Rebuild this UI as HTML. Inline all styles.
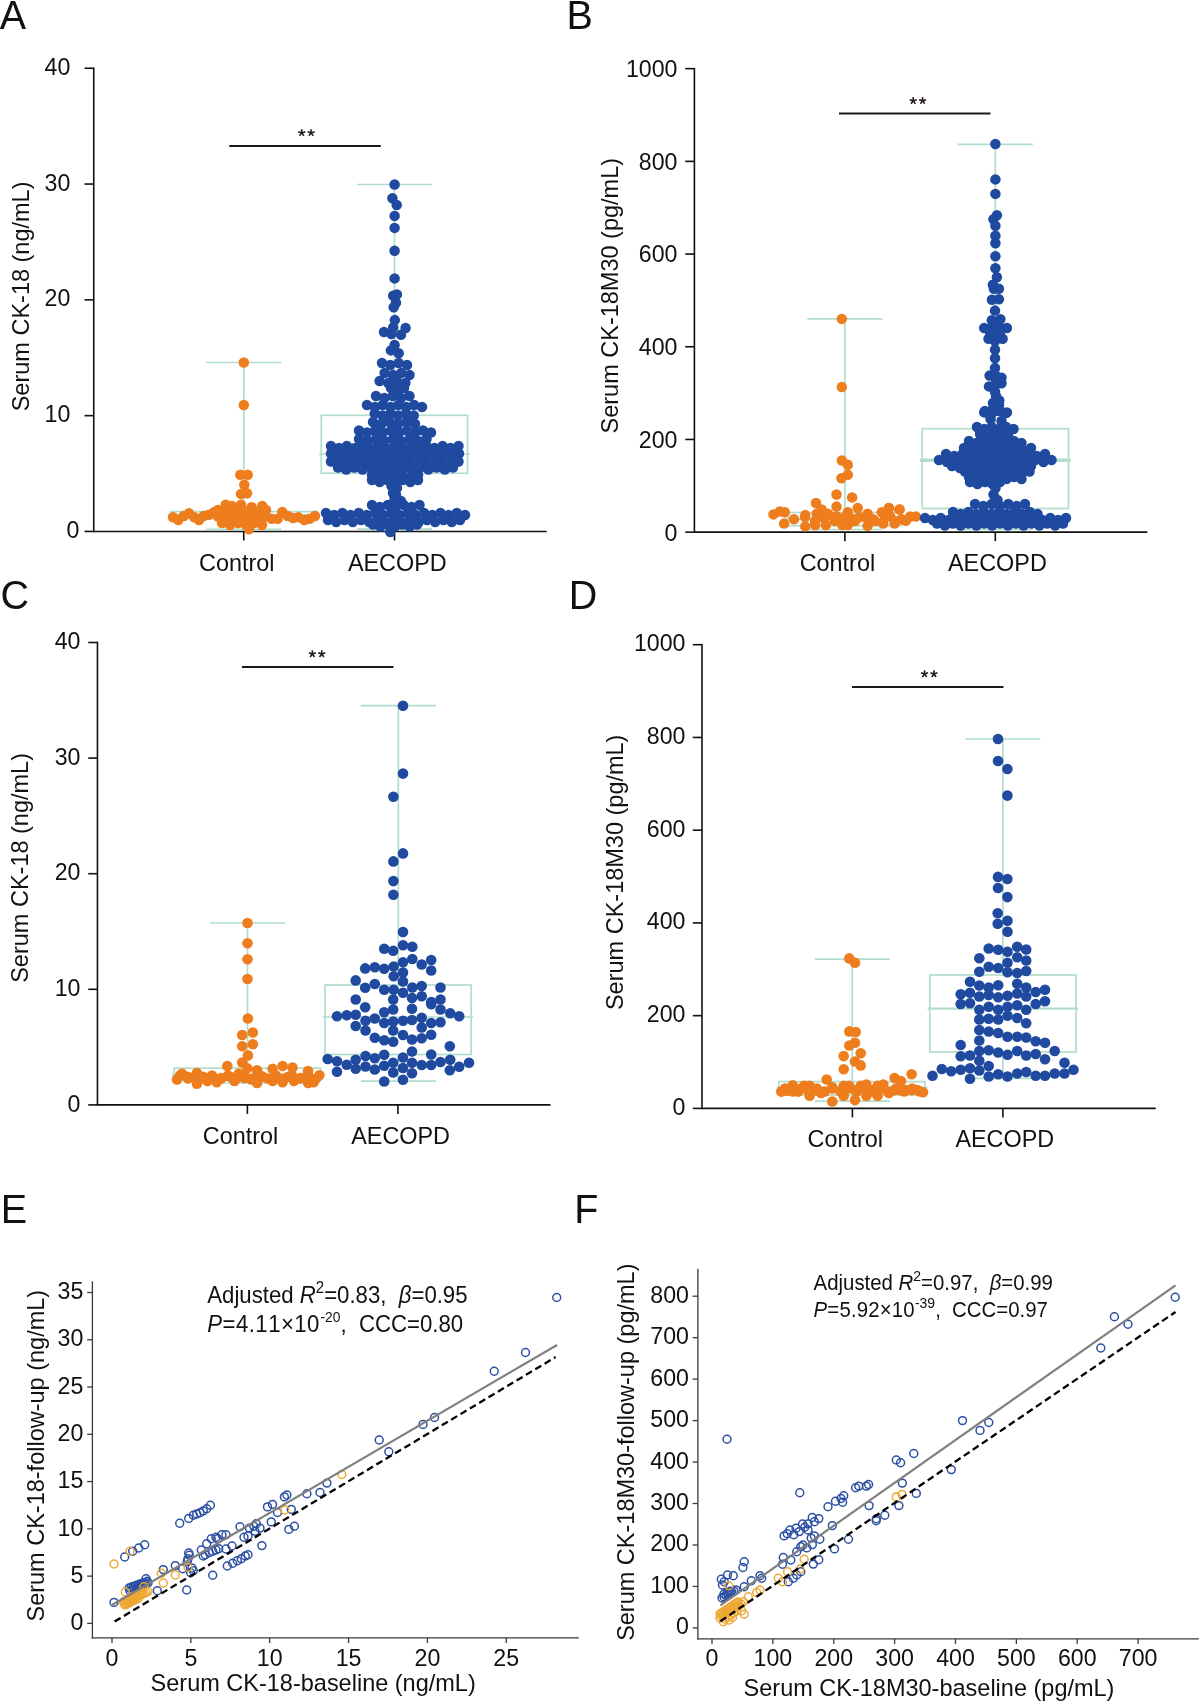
<!DOCTYPE html>
<html><head><meta charset="utf-8"><style>
html,body{margin:0;padding:0;background:#fff;}
svg{display:block;filter:blur(0.45px);}
text{font-family:"Liberation Sans", sans-serif;fill:#111;font-kerning:none;}
</style></head><body>
<svg width="1200" height="1703" viewBox="0 0 1200 1703">
<rect width="1200" height="1703" fill="#fff"/>
<text transform="translate(-0.20,28.60) scale(1,1.04)" font-size="39.5" text-anchor="start" >A</text>
<text transform="translate(566.60,28.60) scale(1,1.04)" font-size="39.5" text-anchor="start" >B</text>
<text transform="translate(0.50,608.60) scale(1,1.04)" font-size="39.5" text-anchor="start" >C</text>
<text transform="translate(568.80,608.60) scale(1,1.04)" font-size="39.5" text-anchor="start" >D</text>
<text transform="translate(0.80,1222.80) scale(1,1.04)" font-size="39.5" text-anchor="start" >E</text>
<text transform="translate(574.20,1222.80) scale(1,1.04)" font-size="39.5" text-anchor="start" >F</text>
<line x1="93.75" y1="67.50" x2="93.75" y2="532.20" stroke="#111" stroke-width="1.6" />
<line x1="84.55" y1="531.45" x2="93.75" y2="531.45" stroke="#111" stroke-width="1.6" />
<text transform="translate(79.40,538.05) scale(1,1.04)" font-size="23.2" text-anchor="end" >0</text>
<line x1="84.55" y1="415.65" x2="93.75" y2="415.65" stroke="#111" stroke-width="1.6" />
<text transform="translate(70.30,422.25) scale(1,1.04)" font-size="23.2" text-anchor="end" >10</text>
<line x1="84.55" y1="299.85" x2="93.75" y2="299.85" stroke="#111" stroke-width="1.6" />
<text transform="translate(70.30,306.45) scale(1,1.04)" font-size="23.2" text-anchor="end" >20</text>
<line x1="84.55" y1="184.05" x2="93.75" y2="184.05" stroke="#111" stroke-width="1.6" />
<text transform="translate(70.30,190.65) scale(1,1.04)" font-size="23.2" text-anchor="end" >30</text>
<line x1="84.55" y1="68.25" x2="93.75" y2="68.25" stroke="#111" stroke-width="1.6" />
<text transform="translate(70.30,74.85) scale(1,1.04)" font-size="23.2" text-anchor="end" >40</text>
<line x1="93.75" y1="531.45" x2="546.70" y2="531.45" stroke="#111" stroke-width="1.6" />
<line x1="243.75" y1="531.45" x2="243.75" y2="540.45" stroke="#111" stroke-width="1.6" />
<line x1="394.50" y1="531.45" x2="394.50" y2="540.45" stroke="#111" stroke-width="1.6" />
<text transform="translate(199.00,570.80) scale(1,1.04)" font-size="23.4" text-anchor="start" >Control</text>
<text transform="translate(347.90,570.80) scale(1,1.04)" font-size="23.4" text-anchor="start" >AECOPD</text>
<text transform="translate(28.60,296.40) rotate(-90) scale(1,1.04)" font-size="23.5" text-anchor="middle">Serum CK-18 (ng/mL)</text>
<line x1="229.30" y1="146.00" x2="380.80" y2="146.00" stroke="#1a1a1a" stroke-width="1.8" />
<g stroke="#231815" stroke-width="1.55" stroke-linecap="butt"><line x1="301.70" y1="132.90" x2="301.70" y2="129.20"/><line x1="301.70" y1="132.90" x2="305.22" y2="131.76"/><line x1="301.70" y1="132.90" x2="303.87" y2="135.89"/><line x1="301.70" y1="132.90" x2="299.53" y2="135.89"/><line x1="301.70" y1="132.90" x2="298.18" y2="131.76"/></g>
<g stroke="#231815" stroke-width="1.55" stroke-linecap="butt"><line x1="311.10" y1="132.90" x2="311.10" y2="129.20"/><line x1="311.10" y1="132.90" x2="314.62" y2="131.76"/><line x1="311.10" y1="132.90" x2="313.27" y2="135.89"/><line x1="311.10" y1="132.90" x2="308.93" y2="135.89"/><line x1="311.10" y1="132.90" x2="307.58" y2="131.76"/></g>
<g stroke="#b2dccb" stroke-width="1.7" fill="none"><line x1="243.75" y1="362.5" x2="243.75" y2="511.6"/><line x1="243.75" y1="517.5" x2="243.75" y2="529.4"/><line x1="206.25" y1="362.5" x2="281.25" y2="362.5"/><line x1="206.25" y1="529.4" x2="281.25" y2="529.4"/><rect x="170.6" y="511.6" width="146.6" height="5.899999999999977" fill="none"/><line x1="168.4" y1="515.0" x2="319.4" y2="515.0" stroke-width="2.2"/></g>
<g stroke="#b2dccb" stroke-width="1.7" fill="none"><line x1="394.5" y1="184.5" x2="394.5" y2="415.3"/><line x1="394.5" y1="473.3" x2="394.5" y2="529.2"/><line x1="357.0" y1="184.5" x2="432.0" y2="184.5"/><line x1="357.0" y1="529.2" x2="432.0" y2="529.2"/><rect x="321.3" y="415.3" width="146.3" height="58.0" fill="none"/><line x1="319.1" y1="454.0" x2="469.8" y2="454.0" stroke-width="1.7"/></g>
<g fill="#ee7d1e"><circle cx="243.8" cy="362.5" r="5.25"/><circle cx="243.8" cy="405.0" r="5.25"/><circle cx="240.3" cy="474.7" r="5.25"/><circle cx="247.7" cy="474.7" r="5.25"/><circle cx="244.3" cy="484.7" r="5.25"/><circle cx="241.0" cy="494.0" r="5.25"/><circle cx="247.0" cy="493.3" r="5.25"/><circle cx="225.7" cy="504.7" r="5.25"/><circle cx="241.0" cy="504.7" r="5.25"/><circle cx="251.7" cy="507.3" r="5.25"/><circle cx="262.3" cy="506.0" r="5.25"/><circle cx="232.0" cy="506.0" r="5.25"/><circle cx="173.0" cy="517.3" r="5.25"/><circle cx="178.3" cy="520.0" r="5.25"/><circle cx="183.7" cy="516.0" r="5.25"/><circle cx="189.0" cy="513.3" r="5.25"/><circle cx="194.3" cy="517.3" r="5.25"/><circle cx="199.0" cy="520.0" r="5.25"/><circle cx="203.7" cy="516.0" r="5.25"/><circle cx="209.0" cy="514.7" r="5.25"/><circle cx="214.3" cy="512.0" r="5.25"/><circle cx="271.7" cy="518.7" r="5.25"/><circle cx="277.7" cy="518.7" r="5.25"/><circle cx="282.3" cy="512.0" r="5.25"/><circle cx="287.7" cy="516.0" r="5.25"/><circle cx="293.0" cy="518.0" r="5.25"/><circle cx="298.3" cy="517.3" r="5.25"/><circle cx="304.3" cy="520.0" r="5.25"/><circle cx="309.7" cy="518.7" r="5.25"/><circle cx="315.0" cy="516.0" r="5.25"/><circle cx="249.0" cy="529.3" r="5.25"/><circle cx="218.0" cy="510.0" r="5.25"/><circle cx="226.0" cy="512.0" r="5.25"/><circle cx="234.0" cy="510.0" r="5.25"/><circle cx="242.0" cy="512.0" r="5.25"/><circle cx="250.0" cy="510.0" r="5.25"/><circle cx="258.0" cy="512.0" r="5.25"/><circle cx="266.0" cy="510.0" r="5.25"/><circle cx="218.0" cy="516.5" r="5.25"/><circle cx="226.0" cy="519.5" r="5.25"/><circle cx="234.0" cy="516.5" r="5.25"/><circle cx="242.0" cy="519.5" r="5.25"/><circle cx="250.0" cy="516.5" r="5.25"/><circle cx="258.0" cy="519.5" r="5.25"/><circle cx="266.0" cy="516.5" r="5.25"/><circle cx="222.0" cy="523.0" r="5.25"/><circle cx="230.0" cy="525.0" r="5.25"/><circle cx="238.0" cy="523.0" r="5.25"/><circle cx="246.0" cy="525.0" r="5.25"/><circle cx="254.0" cy="523.0" r="5.25"/><circle cx="262.0" cy="525.0" r="5.25"/></g>
<g fill="#1f4aa0"><circle cx="394.6" cy="184.5" r="5.25"/><circle cx="392.4" cy="198.2" r="5.25"/><circle cx="396.7" cy="205.0" r="5.25"/><circle cx="394.6" cy="215.9" r="5.25"/><circle cx="394.6" cy="227.9" r="5.25"/><circle cx="394.6" cy="250.8" r="5.25"/><circle cx="394.6" cy="278.4" r="5.25"/><circle cx="396.9" cy="294.4" r="5.25"/><circle cx="393.2" cy="295.8" r="5.25"/><circle cx="396.0" cy="302.7" r="5.25"/><circle cx="393.7" cy="307.3" r="5.25"/><circle cx="394.8" cy="320.1" r="5.25"/><circle cx="393.2" cy="327.5" r="5.25"/><circle cx="405.6" cy="328.0" r="5.25"/><circle cx="384.0" cy="332.0" r="5.25"/><circle cx="391.4" cy="334.0" r="5.25"/><circle cx="401.0" cy="334.8" r="5.25"/><circle cx="394.6" cy="345.0" r="5.25"/><circle cx="390.9" cy="350.4" r="5.25"/><circle cx="398.7" cy="353.2" r="5.25"/><circle cx="382.0" cy="363.0" r="5.25"/><circle cx="390.3" cy="365.0" r="5.25"/><circle cx="398.7" cy="363.0" r="5.25"/><circle cx="407.0" cy="365.0" r="5.25"/><circle cx="384.6" cy="373.0" r="5.25"/><circle cx="392.9" cy="375.0" r="5.25"/><circle cx="401.2" cy="373.0" r="5.25"/><circle cx="409.5" cy="375.0" r="5.25"/><circle cx="379.6" cy="381.0" r="5.25"/><circle cx="388.2" cy="383.0" r="5.25"/><circle cx="396.8" cy="381.0" r="5.25"/><circle cx="405.4" cy="383.0" r="5.25"/><circle cx="391.0" cy="388.0" r="5.25"/><circle cx="397.5" cy="390.0" r="5.25"/><circle cx="404.0" cy="388.0" r="5.25"/><circle cx="376.0" cy="396.0" r="5.25"/><circle cx="384.4" cy="398.0" r="5.25"/><circle cx="392.8" cy="396.0" r="5.25"/><circle cx="401.1" cy="398.0" r="5.25"/><circle cx="409.5" cy="396.0" r="5.25"/><circle cx="367.0" cy="405.0" r="5.25"/><circle cx="374.9" cy="407.0" r="5.25"/><circle cx="382.7" cy="405.0" r="5.25"/><circle cx="390.6" cy="407.0" r="5.25"/><circle cx="398.4" cy="405.0" r="5.25"/><circle cx="406.3" cy="407.0" r="5.25"/><circle cx="414.1" cy="405.0" r="5.25"/><circle cx="422.0" cy="407.0" r="5.25"/><circle cx="374.7" cy="413.5" r="5.25"/><circle cx="382.5" cy="415.5" r="5.25"/><circle cx="390.3" cy="413.5" r="5.25"/><circle cx="398.1" cy="415.5" r="5.25"/><circle cx="405.9" cy="413.5" r="5.25"/><circle cx="413.7" cy="415.5" r="5.25"/><circle cx="373.0" cy="422.0" r="5.25"/><circle cx="381.4" cy="424.0" r="5.25"/><circle cx="389.8" cy="422.0" r="5.25"/><circle cx="398.2" cy="424.0" r="5.25"/><circle cx="406.6" cy="422.0" r="5.25"/><circle cx="415.0" cy="424.0" r="5.25"/><circle cx="359.0" cy="430.5" r="5.25"/><circle cx="367.0" cy="432.5" r="5.25"/><circle cx="375.0" cy="430.5" r="5.25"/><circle cx="383.0" cy="432.5" r="5.25"/><circle cx="391.0" cy="430.5" r="5.25"/><circle cx="399.0" cy="432.5" r="5.25"/><circle cx="407.0" cy="430.5" r="5.25"/><circle cx="415.0" cy="432.5" r="5.25"/><circle cx="423.0" cy="430.5" r="5.25"/><circle cx="431.0" cy="432.5" r="5.25"/><circle cx="359.0" cy="439.0" r="5.25"/><circle cx="367.4" cy="441.0" r="5.25"/><circle cx="375.9" cy="439.0" r="5.25"/><circle cx="384.3" cy="441.0" r="5.25"/><circle cx="392.8" cy="439.0" r="5.25"/><circle cx="401.2" cy="441.0" r="5.25"/><circle cx="409.6" cy="439.0" r="5.25"/><circle cx="418.1" cy="441.0" r="5.25"/><circle cx="426.5" cy="439.0" r="5.25"/><circle cx="331.0" cy="446.0" r="5.25"/><circle cx="339.0" cy="448.0" r="5.25"/><circle cx="346.9" cy="446.0" r="5.25"/><circle cx="354.9" cy="448.0" r="5.25"/><circle cx="362.9" cy="446.0" r="5.25"/><circle cx="370.8" cy="448.0" r="5.25"/><circle cx="378.8" cy="446.0" r="5.25"/><circle cx="386.8" cy="448.0" r="5.25"/><circle cx="394.8" cy="446.0" r="5.25"/><circle cx="402.7" cy="448.0" r="5.25"/><circle cx="410.7" cy="446.0" r="5.25"/><circle cx="418.7" cy="448.0" r="5.25"/><circle cx="426.6" cy="446.0" r="5.25"/><circle cx="434.6" cy="448.0" r="5.25"/><circle cx="442.6" cy="446.0" r="5.25"/><circle cx="450.5" cy="448.0" r="5.25"/><circle cx="458.5" cy="446.0" r="5.25"/><circle cx="331.0" cy="453.5" r="5.25"/><circle cx="339.0" cy="455.5" r="5.25"/><circle cx="347.0" cy="453.5" r="5.25"/><circle cx="355.0" cy="455.5" r="5.25"/><circle cx="363.0" cy="453.5" r="5.25"/><circle cx="371.0" cy="455.5" r="5.25"/><circle cx="379.0" cy="453.5" r="5.25"/><circle cx="387.0" cy="455.5" r="5.25"/><circle cx="395.0" cy="453.5" r="5.25"/><circle cx="403.0" cy="455.5" r="5.25"/><circle cx="411.0" cy="453.5" r="5.25"/><circle cx="419.0" cy="455.5" r="5.25"/><circle cx="427.0" cy="453.5" r="5.25"/><circle cx="435.0" cy="455.5" r="5.25"/><circle cx="443.0" cy="453.5" r="5.25"/><circle cx="451.0" cy="455.5" r="5.25"/><circle cx="459.0" cy="453.5" r="5.25"/><circle cx="331.0" cy="461.5" r="5.25"/><circle cx="339.0" cy="463.5" r="5.25"/><circle cx="346.9" cy="461.5" r="5.25"/><circle cx="354.9" cy="463.5" r="5.25"/><circle cx="362.9" cy="461.5" r="5.25"/><circle cx="370.8" cy="463.5" r="5.25"/><circle cx="378.8" cy="461.5" r="5.25"/><circle cx="386.8" cy="463.5" r="5.25"/><circle cx="394.8" cy="461.5" r="5.25"/><circle cx="402.7" cy="463.5" r="5.25"/><circle cx="410.7" cy="461.5" r="5.25"/><circle cx="418.7" cy="463.5" r="5.25"/><circle cx="426.6" cy="461.5" r="5.25"/><circle cx="434.6" cy="463.5" r="5.25"/><circle cx="442.6" cy="461.5" r="5.25"/><circle cx="450.5" cy="463.5" r="5.25"/><circle cx="458.5" cy="461.5" r="5.25"/><circle cx="338.0" cy="467.5" r="5.25"/><circle cx="346.2" cy="469.5" r="5.25"/><circle cx="354.4" cy="467.5" r="5.25"/><circle cx="362.6" cy="469.5" r="5.25"/><circle cx="370.9" cy="467.5" r="5.25"/><circle cx="379.1" cy="469.5" r="5.25"/><circle cx="387.3" cy="467.5" r="5.25"/><circle cx="395.5" cy="469.5" r="5.25"/><circle cx="403.7" cy="467.5" r="5.25"/><circle cx="411.9" cy="469.5" r="5.25"/><circle cx="420.1" cy="467.5" r="5.25"/><circle cx="428.4" cy="469.5" r="5.25"/><circle cx="436.6" cy="467.5" r="5.25"/><circle cx="444.8" cy="469.5" r="5.25"/><circle cx="453.0" cy="467.5" r="5.25"/><circle cx="372.0" cy="475.0" r="5.25"/><circle cx="379.7" cy="477.0" r="5.25"/><circle cx="387.3" cy="475.0" r="5.25"/><circle cx="395.0" cy="477.0" r="5.25"/><circle cx="402.7" cy="475.0" r="5.25"/><circle cx="410.3" cy="477.0" r="5.25"/><circle cx="418.0" cy="475.0" r="5.25"/><circle cx="372.0" cy="480.0" r="5.25"/><circle cx="379.7" cy="482.0" r="5.25"/><circle cx="387.3" cy="480.0" r="5.25"/><circle cx="395.0" cy="482.0" r="5.25"/><circle cx="402.7" cy="480.0" r="5.25"/><circle cx="410.3" cy="482.0" r="5.25"/><circle cx="418.0" cy="480.0" r="5.25"/><circle cx="391.5" cy="486.0" r="5.25"/><circle cx="397.0" cy="488.0" r="5.25"/><circle cx="393.0" cy="493.0" r="5.25"/><circle cx="396.0" cy="495.0" r="5.25"/><circle cx="394.5" cy="499.0" r="5.25"/><circle cx="401.0" cy="501.0" r="5.25"/><circle cx="372.0" cy="505.0" r="5.25"/><circle cx="379.9" cy="507.0" r="5.25"/><circle cx="387.8" cy="505.0" r="5.25"/><circle cx="395.8" cy="507.0" r="5.25"/><circle cx="403.7" cy="505.0" r="5.25"/><circle cx="411.6" cy="507.0" r="5.25"/><circle cx="419.5" cy="505.0" r="5.25"/><circle cx="326.0" cy="513.0" r="5.25"/><circle cx="334.2" cy="515.0" r="5.25"/><circle cx="342.4" cy="513.0" r="5.25"/><circle cx="350.5" cy="515.0" r="5.25"/><circle cx="358.7" cy="513.0" r="5.25"/><circle cx="366.9" cy="515.0" r="5.25"/><circle cx="375.1" cy="513.0" r="5.25"/><circle cx="383.2" cy="515.0" r="5.25"/><circle cx="391.4" cy="513.0" r="5.25"/><circle cx="399.6" cy="515.0" r="5.25"/><circle cx="407.8" cy="513.0" r="5.25"/><circle cx="415.9" cy="515.0" r="5.25"/><circle cx="424.1" cy="513.0" r="5.25"/><circle cx="432.3" cy="515.0" r="5.25"/><circle cx="440.5" cy="513.0" r="5.25"/><circle cx="448.6" cy="515.0" r="5.25"/><circle cx="456.8" cy="513.0" r="5.25"/><circle cx="465.0" cy="515.0" r="5.25"/><circle cx="328.0" cy="520.0" r="5.25"/><circle cx="336.2" cy="522.0" r="5.25"/><circle cx="344.5" cy="520.0" r="5.25"/><circle cx="352.8" cy="522.0" r="5.25"/><circle cx="361.0" cy="520.0" r="5.25"/><circle cx="369.2" cy="522.0" r="5.25"/><circle cx="377.5" cy="520.0" r="5.25"/><circle cx="385.8" cy="522.0" r="5.25"/><circle cx="394.0" cy="520.0" r="5.25"/><circle cx="402.2" cy="522.0" r="5.25"/><circle cx="410.5" cy="520.0" r="5.25"/><circle cx="418.8" cy="522.0" r="5.25"/><circle cx="427.0" cy="520.0" r="5.25"/><circle cx="435.2" cy="522.0" r="5.25"/><circle cx="443.5" cy="520.0" r="5.25"/><circle cx="451.8" cy="522.0" r="5.25"/><circle cx="460.0" cy="520.0" r="5.25"/><circle cx="373.0" cy="524.5" r="5.25"/><circle cx="380.3" cy="526.5" r="5.25"/><circle cx="387.7" cy="524.5" r="5.25"/><circle cx="395.0" cy="526.5" r="5.25"/><circle cx="402.3" cy="524.5" r="5.25"/><circle cx="409.7" cy="526.5" r="5.25"/><circle cx="417.0" cy="524.5" r="5.25"/><circle cx="390.3" cy="532.0" r="5.25"/></g>
<line x1="694.40" y1="67.90" x2="694.40" y2="532.90" stroke="#111" stroke-width="1.6" />
<line x1="685.20" y1="532.15" x2="694.40" y2="532.15" stroke="#111" stroke-width="1.6" />
<text transform="translate(677.50,540.55) scale(1,1.04)" font-size="23.2" text-anchor="end" >0</text>
<line x1="685.20" y1="439.45" x2="694.40" y2="439.45" stroke="#111" stroke-width="1.6" />
<text transform="translate(677.50,447.85) scale(1,1.04)" font-size="23.2" text-anchor="end" >200</text>
<line x1="685.20" y1="346.75" x2="694.40" y2="346.75" stroke="#111" stroke-width="1.6" />
<text transform="translate(677.50,355.15) scale(1,1.04)" font-size="23.2" text-anchor="end" >400</text>
<line x1="685.20" y1="254.05" x2="694.40" y2="254.05" stroke="#111" stroke-width="1.6" />
<text transform="translate(677.50,262.45) scale(1,1.04)" font-size="23.2" text-anchor="end" >600</text>
<line x1="685.20" y1="161.35" x2="694.40" y2="161.35" stroke="#111" stroke-width="1.6" />
<text transform="translate(677.50,169.75) scale(1,1.04)" font-size="23.2" text-anchor="end" >800</text>
<line x1="685.20" y1="68.65" x2="694.40" y2="68.65" stroke="#111" stroke-width="1.6" />
<text transform="translate(677.50,77.05) scale(1,1.04)" font-size="23.2" text-anchor="end" >1000</text>
<line x1="694.40" y1="532.15" x2="1147.30" y2="532.15" stroke="#111" stroke-width="1.6" />
<line x1="844.90" y1="532.15" x2="844.90" y2="541.15" stroke="#111" stroke-width="1.6" />
<line x1="995.30" y1="532.15" x2="995.30" y2="541.15" stroke="#111" stroke-width="1.6" />
<text transform="translate(799.70,571.00) scale(1,1.04)" font-size="23.4" text-anchor="start" >Control</text>
<text transform="translate(948.00,571.00) scale(1,1.04)" font-size="23.4" text-anchor="start" >AECOPD</text>
<text transform="translate(618.30,295.70) rotate(-90) scale(1,1.04)" font-size="23.5" text-anchor="middle">Serum CK-18M30 (pg/mL)</text>
<line x1="839.00" y1="113.50" x2="990.50" y2="113.50" stroke="#1a1a1a" stroke-width="1.8" />
<g stroke="#231815" stroke-width="1.55" stroke-linecap="butt"><line x1="913.20" y1="100.80" x2="913.20" y2="97.10"/><line x1="913.20" y1="100.80" x2="916.72" y2="99.66"/><line x1="913.20" y1="100.80" x2="915.37" y2="103.79"/><line x1="913.20" y1="100.80" x2="911.03" y2="103.79"/><line x1="913.20" y1="100.80" x2="909.68" y2="99.66"/></g>
<g stroke="#231815" stroke-width="1.55" stroke-linecap="butt"><line x1="922.60" y1="100.80" x2="922.60" y2="97.10"/><line x1="922.60" y1="100.80" x2="926.12" y2="99.66"/><line x1="922.60" y1="100.80" x2="924.77" y2="103.79"/><line x1="922.60" y1="100.80" x2="920.43" y2="103.79"/><line x1="922.60" y1="100.80" x2="919.08" y2="99.66"/></g>
<g stroke="#b2dccb" stroke-width="1.7" fill="none"><line x1="844.9" y1="318.9" x2="844.9" y2="512.5"/><line x1="844.9" y1="525.7" x2="844.9" y2="529.5"/><line x1="807.4" y1="318.9" x2="882.4" y2="318.9"/><line x1="807.4" y1="529.5" x2="882.4" y2="529.5"/><rect x="788.3" y="512.5" width="113.20000000000005" height="13.200000000000045" fill="none"/><line x1="786.0999999999999" y1="519.0" x2="903.7" y2="519.0" stroke-width="2.2"/></g>
<g stroke="#b2dccb" stroke-width="1.7" fill="none"><line x1="995.3" y1="144.3" x2="995.3" y2="428.7"/><line x1="995.3" y1="508.5" x2="995.3" y2="529.5"/><line x1="957.8" y1="144.3" x2="1032.8" y2="144.3"/><line x1="957.8" y1="529.5" x2="1032.8" y2="529.5"/><rect x="922.2" y="428.7" width="146.29999999999995" height="79.80000000000001" fill="none"/><line x1="920.0" y1="460.3" x2="1070.7" y2="460.3" stroke-width="3.6"/></g>
<g fill="#ee7d1e"><circle cx="841.8" cy="318.9" r="5.25"/><circle cx="841.8" cy="387.1" r="5.25"/><circle cx="841.9" cy="460.5" r="5.25"/><circle cx="847.8" cy="464.8" r="5.25"/><circle cx="847.8" cy="474.7" r="5.25"/><circle cx="841.4" cy="478.2" r="5.25"/><circle cx="836.5" cy="494.5" r="5.25"/><circle cx="852.1" cy="497.4" r="5.25"/><circle cx="816.0" cy="503.0" r="5.25"/><circle cx="836.5" cy="506.6" r="5.25"/><circle cx="857.7" cy="508.0" r="5.25"/><circle cx="821.6" cy="509.4" r="5.25"/><circle cx="888.9" cy="508.0" r="5.25"/><circle cx="899.5" cy="509.4" r="5.25"/><circle cx="773.5" cy="514.4" r="5.25"/><circle cx="779.8" cy="511.5" r="5.25"/><circle cx="784.8" cy="512.2" r="5.25"/><circle cx="784.1" cy="523.6" r="5.25"/><circle cx="794.0" cy="519.3" r="5.25"/><circle cx="805.3" cy="515.1" r="5.25"/><circle cx="805.3" cy="526.4" r="5.25"/><circle cx="815.2" cy="525.0" r="5.25"/><circle cx="816.7" cy="513.7" r="5.25"/><circle cx="824.4" cy="518.6" r="5.25"/><circle cx="825.9" cy="525.0" r="5.25"/><circle cx="828.0" cy="513.7" r="5.25"/><circle cx="836.5" cy="516.5" r="5.25"/><circle cx="842.2" cy="525.0" r="5.25"/><circle cx="847.8" cy="512.2" r="5.25"/><circle cx="847.8" cy="525.0" r="5.25"/><circle cx="853.5" cy="519.3" r="5.25"/><circle cx="859.2" cy="517.2" r="5.25"/><circle cx="867.6" cy="513.7" r="5.25"/><circle cx="867.6" cy="525.7" r="5.25"/><circle cx="873.3" cy="519.3" r="5.25"/><circle cx="881.8" cy="512.2" r="5.25"/><circle cx="883.2" cy="523.6" r="5.25"/><circle cx="888.9" cy="508.0" r="5.25"/><circle cx="890.3" cy="516.5" r="5.25"/><circle cx="894.6" cy="523.6" r="5.25"/><circle cx="899.5" cy="509.4" r="5.25"/><circle cx="901.6" cy="519.3" r="5.25"/><circle cx="905.9" cy="520.7" r="5.25"/><circle cx="910.1" cy="516.5" r="5.25"/><circle cx="915.8" cy="516.5" r="5.25"/><circle cx="805.0" cy="517.0" r="5.25"/><circle cx="815.0" cy="521.0" r="5.25"/><circle cx="825.0" cy="517.0" r="5.25"/><circle cx="835.0" cy="521.0" r="5.25"/><circle cx="845.0" cy="517.0" r="5.25"/><circle cx="855.0" cy="521.0" r="5.25"/><circle cx="865.0" cy="517.0" r="5.25"/><circle cx="875.0" cy="521.0" r="5.25"/><circle cx="885.0" cy="517.0" r="5.25"/><circle cx="895.0" cy="521.0" r="5.25"/></g>
<g fill="#1f4aa0"><circle cx="995.4" cy="144.0" r="5.25"/><circle cx="995.4" cy="179.4" r="5.25"/><circle cx="995.4" cy="193.9" r="5.25"/><circle cx="996.9" cy="215.3" r="5.25"/><circle cx="993.4" cy="219.3" r="5.25"/><circle cx="995.4" cy="225.8" r="5.25"/><circle cx="995.4" cy="235.8" r="5.25"/><circle cx="995.4" cy="243.3" r="5.25"/><circle cx="995.4" cy="256.2" r="5.25"/><circle cx="995.4" cy="268.2" r="5.25"/><circle cx="996.9" cy="277.2" r="5.25"/><circle cx="992.9" cy="284.7" r="5.25"/><circle cx="993.9" cy="288.7" r="5.25"/><circle cx="998.9" cy="288.7" r="5.25"/><circle cx="991.9" cy="299.7" r="5.25"/><circle cx="998.9" cy="299.2" r="5.25"/><circle cx="995.0" cy="310.6" r="5.25"/><circle cx="991.8" cy="320.3" r="5.25"/><circle cx="1000.4" cy="319.3" r="5.25"/><circle cx="984.2" cy="328.0" r="5.25"/><circle cx="992.3" cy="326.8" r="5.25"/><circle cx="1000.4" cy="328.0" r="5.25"/><circle cx="1006.9" cy="328.0" r="5.25"/><circle cx="988.5" cy="338.8" r="5.25"/><circle cx="995.0" cy="336.6" r="5.25"/><circle cx="1002.6" cy="338.8" r="5.25"/><circle cx="995.0" cy="349.6" r="5.25"/><circle cx="995.0" cy="358.3" r="5.25"/><circle cx="995.0" cy="368.0" r="5.25"/><circle cx="989.6" cy="375.6" r="5.25"/><circle cx="995.0" cy="374.5" r="5.25"/><circle cx="1001.5" cy="377.8" r="5.25"/><circle cx="989.0" cy="386.4" r="5.25"/><circle cx="995.0" cy="385.3" r="5.25"/><circle cx="1001.5" cy="383.2" r="5.25"/><circle cx="995.0" cy="391.8" r="5.25"/><circle cx="995.0" cy="401.6" r="5.25"/><circle cx="999.3" cy="400.5" r="5.25"/><circle cx="984.2" cy="412.4" r="5.25"/><circle cx="992.8" cy="409.2" r="5.25"/><circle cx="999.3" cy="409.2" r="5.25"/><circle cx="1006.9" cy="412.4" r="5.25"/><circle cx="993.0" cy="403.0" r="5.25"/><circle cx="999.0" cy="405.0" r="5.25"/><circle cx="985.0" cy="411.0" r="5.25"/><circle cx="992.0" cy="413.0" r="5.25"/><circle cx="999.0" cy="411.0" r="5.25"/><circle cx="1006.0" cy="413.0" r="5.25"/><circle cx="990.5" cy="419.0" r="5.25"/><circle cx="1001.5" cy="421.0" r="5.25"/><circle cx="977.0" cy="427.0" r="5.25"/><circle cx="984.3" cy="429.0" r="5.25"/><circle cx="991.6" cy="427.0" r="5.25"/><circle cx="998.9" cy="429.0" r="5.25"/><circle cx="1006.2" cy="427.0" r="5.25"/><circle cx="1013.5" cy="429.0" r="5.25"/><circle cx="980.0" cy="434.0" r="5.25"/><circle cx="987.0" cy="436.0" r="5.25"/><circle cx="994.0" cy="434.0" r="5.25"/><circle cx="1001.0" cy="436.0" r="5.25"/><circle cx="1008.0" cy="434.0" r="5.25"/><circle cx="969.0" cy="441.0" r="5.25"/><circle cx="976.5" cy="443.0" r="5.25"/><circle cx="984.0" cy="441.0" r="5.25"/><circle cx="991.5" cy="443.0" r="5.25"/><circle cx="999.0" cy="441.0" r="5.25"/><circle cx="1006.5" cy="443.0" r="5.25"/><circle cx="1014.0" cy="441.0" r="5.25"/><circle cx="1021.5" cy="443.0" r="5.25"/><circle cx="964.0" cy="448.0" r="5.25"/><circle cx="972.4" cy="450.0" r="5.25"/><circle cx="980.8" cy="448.0" r="5.25"/><circle cx="989.1" cy="450.0" r="5.25"/><circle cx="997.5" cy="448.0" r="5.25"/><circle cx="1005.9" cy="450.0" r="5.25"/><circle cx="1014.2" cy="448.0" r="5.25"/><circle cx="1022.6" cy="450.0" r="5.25"/><circle cx="1031.0" cy="448.0" r="5.25"/><circle cx="946.0" cy="454.0" r="5.25"/><circle cx="954.2" cy="456.0" r="5.25"/><circle cx="962.5" cy="454.0" r="5.25"/><circle cx="970.8" cy="456.0" r="5.25"/><circle cx="979.0" cy="454.0" r="5.25"/><circle cx="987.2" cy="456.0" r="5.25"/><circle cx="995.5" cy="454.0" r="5.25"/><circle cx="1003.8" cy="456.0" r="5.25"/><circle cx="1012.0" cy="454.0" r="5.25"/><circle cx="1020.2" cy="456.0" r="5.25"/><circle cx="1028.5" cy="454.0" r="5.25"/><circle cx="1036.8" cy="456.0" r="5.25"/><circle cx="1045.0" cy="454.0" r="5.25"/><circle cx="939.0" cy="460.0" r="5.25"/><circle cx="947.0" cy="462.0" r="5.25"/><circle cx="955.1" cy="460.0" r="5.25"/><circle cx="963.1" cy="462.0" r="5.25"/><circle cx="971.1" cy="460.0" r="5.25"/><circle cx="979.2" cy="462.0" r="5.25"/><circle cx="987.2" cy="460.0" r="5.25"/><circle cx="995.2" cy="462.0" r="5.25"/><circle cx="1003.3" cy="460.0" r="5.25"/><circle cx="1011.3" cy="462.0" r="5.25"/><circle cx="1019.4" cy="460.0" r="5.25"/><circle cx="1027.4" cy="462.0" r="5.25"/><circle cx="1035.4" cy="460.0" r="5.25"/><circle cx="1043.5" cy="462.0" r="5.25"/><circle cx="1051.5" cy="460.0" r="5.25"/><circle cx="952.0" cy="466.0" r="5.25"/><circle cx="959.9" cy="468.0" r="5.25"/><circle cx="967.8" cy="466.0" r="5.25"/><circle cx="975.7" cy="468.0" r="5.25"/><circle cx="983.6" cy="466.0" r="5.25"/><circle cx="991.5" cy="468.0" r="5.25"/><circle cx="999.4" cy="466.0" r="5.25"/><circle cx="1007.3" cy="468.0" r="5.25"/><circle cx="1015.2" cy="466.0" r="5.25"/><circle cx="1023.1" cy="468.0" r="5.25"/><circle cx="1031.0" cy="466.0" r="5.25"/><circle cx="965.0" cy="471.5" r="5.25"/><circle cx="973.1" cy="473.5" r="5.25"/><circle cx="981.1" cy="471.5" r="5.25"/><circle cx="989.2" cy="473.5" r="5.25"/><circle cx="997.2" cy="471.5" r="5.25"/><circle cx="1005.3" cy="473.5" r="5.25"/><circle cx="1013.4" cy="471.5" r="5.25"/><circle cx="1021.4" cy="473.5" r="5.25"/><circle cx="1029.5" cy="471.5" r="5.25"/><circle cx="969.0" cy="477.0" r="5.25"/><circle cx="976.5" cy="479.0" r="5.25"/><circle cx="984.0" cy="477.0" r="5.25"/><circle cx="991.5" cy="479.0" r="5.25"/><circle cx="999.0" cy="477.0" r="5.25"/><circle cx="1006.5" cy="479.0" r="5.25"/><circle cx="1014.0" cy="477.0" r="5.25"/><circle cx="1021.5" cy="479.0" r="5.25"/><circle cx="970.0" cy="482.0" r="5.25"/><circle cx="977.5" cy="484.0" r="5.25"/><circle cx="985.0" cy="482.0" r="5.25"/><circle cx="992.5" cy="484.0" r="5.25"/><circle cx="1000.0" cy="482.0" r="5.25"/><circle cx="975.0" cy="504.0" r="5.25"/><circle cx="983.3" cy="506.0" r="5.25"/><circle cx="991.7" cy="504.0" r="5.25"/><circle cx="1000.0" cy="506.0" r="5.25"/><circle cx="1008.3" cy="504.0" r="5.25"/><circle cx="1016.7" cy="506.0" r="5.25"/><circle cx="1025.0" cy="504.0" r="5.25"/><circle cx="953.0" cy="512.0" r="5.25"/><circle cx="960.7" cy="514.0" r="5.25"/><circle cx="968.4" cy="512.0" r="5.25"/><circle cx="976.0" cy="514.0" r="5.25"/><circle cx="983.7" cy="512.0" r="5.25"/><circle cx="991.4" cy="514.0" r="5.25"/><circle cx="999.1" cy="512.0" r="5.25"/><circle cx="1006.8" cy="514.0" r="5.25"/><circle cx="1014.5" cy="512.0" r="5.25"/><circle cx="1022.1" cy="514.0" r="5.25"/><circle cx="1029.8" cy="512.0" r="5.25"/><circle cx="1037.5" cy="514.0" r="5.25"/><circle cx="925.0" cy="518.0" r="5.25"/><circle cx="932.8" cy="520.0" r="5.25"/><circle cx="940.7" cy="518.0" r="5.25"/><circle cx="948.5" cy="520.0" r="5.25"/><circle cx="956.3" cy="518.0" r="5.25"/><circle cx="964.2" cy="520.0" r="5.25"/><circle cx="972.0" cy="518.0" r="5.25"/><circle cx="979.8" cy="520.0" r="5.25"/><circle cx="987.7" cy="518.0" r="5.25"/><circle cx="995.5" cy="520.0" r="5.25"/><circle cx="1003.3" cy="518.0" r="5.25"/><circle cx="1011.2" cy="520.0" r="5.25"/><circle cx="1019.0" cy="518.0" r="5.25"/><circle cx="1026.8" cy="520.0" r="5.25"/><circle cx="1034.7" cy="518.0" r="5.25"/><circle cx="1042.5" cy="520.0" r="5.25"/><circle cx="1050.3" cy="518.0" r="5.25"/><circle cx="1058.2" cy="520.0" r="5.25"/><circle cx="1066.0" cy="518.0" r="5.25"/><circle cx="937.0" cy="523.5" r="5.25"/><circle cx="944.9" cy="525.5" r="5.25"/><circle cx="952.8" cy="523.5" r="5.25"/><circle cx="960.6" cy="525.5" r="5.25"/><circle cx="968.5" cy="523.5" r="5.25"/><circle cx="976.4" cy="525.5" r="5.25"/><circle cx="984.2" cy="523.5" r="5.25"/><circle cx="992.1" cy="525.5" r="5.25"/><circle cx="1000.0" cy="523.5" r="5.25"/><circle cx="1007.9" cy="525.5" r="5.25"/><circle cx="1015.8" cy="523.5" r="5.25"/><circle cx="1023.6" cy="525.5" r="5.25"/><circle cx="1031.5" cy="523.5" r="5.25"/><circle cx="1039.4" cy="525.5" r="5.25"/><circle cx="1047.2" cy="523.5" r="5.25"/><circle cx="1055.1" cy="525.5" r="5.25"/><circle cx="1063.0" cy="523.5" r="5.25"/><circle cx="995.5" cy="488.0" r="5.25"/><circle cx="993.5" cy="494.5" r="5.25"/><circle cx="997.5" cy="500.0" r="5.25"/><circle cx="995.0" cy="323.0" r="5.25"/><circle cx="990.0" cy="332.0" r="5.25"/><circle cx="1000.0" cy="332.0" r="5.25"/><circle cx="995.0" cy="341.0" r="5.25"/><circle cx="996.0" cy="380.0" r="5.25"/><circle cx="996.0" cy="396.0" r="5.25"/></g>
<line x1="97.45" y1="641.75" x2="97.45" y2="1105.65" stroke="#111" stroke-width="1.6" />
<line x1="88.25" y1="1104.90" x2="97.45" y2="1104.90" stroke="#111" stroke-width="1.6" />
<text transform="translate(80.50,1111.50) scale(1,1.04)" font-size="23.2" text-anchor="end" >0</text>
<line x1="88.25" y1="989.30" x2="97.45" y2="989.30" stroke="#111" stroke-width="1.6" />
<text transform="translate(80.50,995.90) scale(1,1.04)" font-size="23.2" text-anchor="end" >10</text>
<line x1="88.25" y1="873.70" x2="97.45" y2="873.70" stroke="#111" stroke-width="1.6" />
<text transform="translate(80.50,880.30) scale(1,1.04)" font-size="23.2" text-anchor="end" >20</text>
<line x1="88.25" y1="758.10" x2="97.45" y2="758.10" stroke="#111" stroke-width="1.6" />
<text transform="translate(80.50,764.70) scale(1,1.04)" font-size="23.2" text-anchor="end" >30</text>
<line x1="88.25" y1="642.50" x2="97.45" y2="642.50" stroke="#111" stroke-width="1.6" />
<text transform="translate(80.50,649.10) scale(1,1.04)" font-size="23.2" text-anchor="end" >40</text>
<line x1="97.45" y1="1104.90" x2="550.50" y2="1104.90" stroke="#111" stroke-width="1.6" />
<line x1="247.40" y1="1104.90" x2="247.40" y2="1113.90" stroke="#111" stroke-width="1.6" />
<line x1="397.90" y1="1104.90" x2="397.90" y2="1113.90" stroke="#111" stroke-width="1.6" />
<text transform="translate(202.80,1143.80) scale(1,1.04)" font-size="23.4" text-anchor="start" >Control</text>
<text transform="translate(351.20,1143.80) scale(1,1.04)" font-size="23.4" text-anchor="start" >AECOPD</text>
<text transform="translate(27.60,867.90) rotate(-90) scale(1,1.04)" font-size="23.5" text-anchor="middle">Serum CK-18 (ng/mL)</text>
<line x1="242.00" y1="667.00" x2="393.50" y2="667.00" stroke="#1a1a1a" stroke-width="1.8" />
<g stroke="#231815" stroke-width="1.55" stroke-linecap="butt"><line x1="312.30" y1="654.00" x2="312.30" y2="650.30"/><line x1="312.30" y1="654.00" x2="315.82" y2="652.86"/><line x1="312.30" y1="654.00" x2="314.47" y2="656.99"/><line x1="312.30" y1="654.00" x2="310.13" y2="656.99"/><line x1="312.30" y1="654.00" x2="308.78" y2="652.86"/></g>
<g stroke="#231815" stroke-width="1.55" stroke-linecap="butt"><line x1="321.70" y1="654.00" x2="321.70" y2="650.30"/><line x1="321.70" y1="654.00" x2="325.22" y2="652.86"/><line x1="321.70" y1="654.00" x2="323.87" y2="656.99"/><line x1="321.70" y1="654.00" x2="319.53" y2="656.99"/><line x1="321.70" y1="654.00" x2="318.18" y2="652.86"/></g>
<g stroke="#b2dccb" stroke-width="1.7" fill="none"><line x1="247.5" y1="923.0" x2="247.5" y2="1068.2"/><line x1="247.5" y1="1080.0" x2="247.5" y2="1083.0"/><line x1="210.0" y1="923.0" x2="285.0" y2="923.0"/><line x1="210.0" y1="1083.0" x2="285.0" y2="1083.0"/><rect x="174.2" y="1068.2" width="146.60000000000002" height="11.799999999999955" fill="none"/><line x1="172.0" y1="1075.0" x2="323.0" y2="1075.0" stroke-width="2.2"/></g>
<g stroke="#b2dccb" stroke-width="1.7" fill="none"><line x1="398.3" y1="705.7" x2="398.3" y2="985.0"/><line x1="398.3" y1="1054.5" x2="398.3" y2="1081.2"/><line x1="360.8" y1="705.7" x2="435.8" y2="705.7"/><line x1="360.8" y1="1081.2" x2="435.8" y2="1081.2"/><rect x="325.0" y="985.0" width="146.10000000000002" height="69.5" fill="none"/><line x1="322.8" y1="1017.0" x2="473.3" y2="1017.0" stroke-width="1.7"/></g>
<g fill="#ee7d1e"><circle cx="247.5" cy="923.0" r="5.3"/><circle cx="247.5" cy="943.2" r="5.3"/><circle cx="247.5" cy="959.2" r="5.3"/><circle cx="247.5" cy="979.0" r="5.3"/><circle cx="247.9" cy="1018.5" r="5.3"/><circle cx="242.2" cy="1035.0" r="5.3"/><circle cx="252.8" cy="1032.5" r="5.3"/><circle cx="242.2" cy="1046.2" r="5.3"/><circle cx="252.8" cy="1044.3" r="5.3"/><circle cx="247.9" cy="1055.4" r="5.3"/><circle cx="242.2" cy="1062.5" r="5.3"/><circle cx="227.3" cy="1066.0" r="5.3"/><circle cx="247.2" cy="1068.2" r="5.3"/><circle cx="257.0" cy="1070.3" r="5.3"/><circle cx="272.6" cy="1068.9" r="5.3"/><circle cx="282.6" cy="1066.0" r="5.3"/><circle cx="292.5" cy="1067.5" r="5.3"/><circle cx="308.0" cy="1071.0" r="5.3"/><circle cx="177.0" cy="1079.5" r="5.3"/><circle cx="182.0" cy="1073.8" r="5.3"/><circle cx="187.7" cy="1076.7" r="5.3"/><circle cx="196.9" cy="1073.1" r="5.3"/><circle cx="196.9" cy="1083.7" r="5.3"/><circle cx="203.2" cy="1076.7" r="5.3"/><circle cx="207.5" cy="1080.9" r="5.3"/><circle cx="216.7" cy="1082.3" r="5.3"/><circle cx="221.7" cy="1078.1" r="5.3"/><circle cx="230.2" cy="1076.7" r="5.3"/><circle cx="234.4" cy="1080.9" r="5.3"/><circle cx="238.7" cy="1073.8" r="5.3"/><circle cx="244.3" cy="1078.1" r="5.3"/><circle cx="251.4" cy="1079.5" r="5.3"/><circle cx="257.1" cy="1083.0" r="5.3"/><circle cx="262.7" cy="1076.7" r="5.3"/><circle cx="272.6" cy="1080.9" r="5.3"/><circle cx="278.3" cy="1078.1" r="5.3"/><circle cx="282.6" cy="1082.3" r="5.3"/><circle cx="288.2" cy="1076.7" r="5.3"/><circle cx="293.9" cy="1080.9" r="5.3"/><circle cx="301.0" cy="1078.1" r="5.3"/><circle cx="308.1" cy="1083.0" r="5.3"/><circle cx="313.7" cy="1082.3" r="5.3"/><circle cx="319.4" cy="1075.2" r="5.3"/><circle cx="180.0" cy="1075.5" r="5.3"/><circle cx="188.0" cy="1078.5" r="5.3"/><circle cx="196.0" cy="1075.5" r="5.3"/><circle cx="204.0" cy="1078.5" r="5.3"/><circle cx="212.0" cy="1075.5" r="5.3"/><circle cx="220.0" cy="1078.5" r="5.3"/><circle cx="228.0" cy="1075.5" r="5.3"/><circle cx="236.0" cy="1078.5" r="5.3"/><circle cx="244.0" cy="1075.5" r="5.3"/><circle cx="252.0" cy="1078.5" r="5.3"/><circle cx="260.0" cy="1075.5" r="5.3"/><circle cx="268.0" cy="1078.5" r="5.3"/><circle cx="276.0" cy="1075.5" r="5.3"/><circle cx="284.0" cy="1078.5" r="5.3"/><circle cx="292.0" cy="1075.5" r="5.3"/><circle cx="300.0" cy="1078.5" r="5.3"/><circle cx="308.0" cy="1075.5" r="5.3"/><circle cx="316.0" cy="1078.5" r="5.3"/></g>
<g fill="#1f4aa0"><circle cx="403.0" cy="705.7" r="5.3"/><circle cx="403.0" cy="773.6" r="5.3"/><circle cx="393.4" cy="796.7" r="5.3"/><circle cx="403.0" cy="853.4" r="5.3"/><circle cx="393.4" cy="861.4" r="5.3"/><circle cx="393.4" cy="881.1" r="5.3"/><circle cx="393.4" cy="894.7" r="5.3"/><circle cx="403.0" cy="932.0" r="5.3"/><circle cx="384.2" cy="948.8" r="5.3"/><circle cx="393.2" cy="950.7" r="5.3"/><circle cx="403.0" cy="945.2" r="5.3"/><circle cx="412.3" cy="946.7" r="5.3"/><circle cx="412.3" cy="959.0" r="5.3"/><circle cx="403.0" cy="962.3" r="5.3"/><circle cx="421.7" cy="964.5" r="5.3"/><circle cx="431.2" cy="960.0" r="5.3"/><circle cx="365.2" cy="968.4" r="5.3"/><circle cx="374.8" cy="967.2" r="5.3"/><circle cx="384.2" cy="968.7" r="5.3"/><circle cx="393.7" cy="966.5" r="5.3"/><circle cx="403.0" cy="972.5" r="5.3"/><circle cx="393.7" cy="976.2" r="5.3"/><circle cx="431.2" cy="970.5" r="5.3"/><circle cx="355.7" cy="980.4" r="5.3"/><circle cx="374.8" cy="984.0" r="5.3"/><circle cx="365.2" cy="987.8" r="5.3"/><circle cx="403.0" cy="981.5" r="5.3"/><circle cx="384.2" cy="989.7" r="5.3"/><circle cx="393.7" cy="989.7" r="5.3"/><circle cx="403.0" cy="992.7" r="5.3"/><circle cx="412.3" cy="987.5" r="5.3"/><circle cx="421.7" cy="986.0" r="5.3"/><circle cx="440.5" cy="987.5" r="5.3"/><circle cx="355.7" cy="999.5" r="5.3"/><circle cx="393.2" cy="999.5" r="5.3"/><circle cx="412.0" cy="998.0" r="5.3"/><circle cx="421.7" cy="996.2" r="5.3"/><circle cx="431.2" cy="1002.0" r="5.3"/><circle cx="440.5" cy="999.5" r="5.3"/><circle cx="365.2" cy="1007.2" r="5.3"/><circle cx="393.2" cy="1009.5" r="5.3"/><circle cx="412.0" cy="1008.7" r="5.3"/><circle cx="431.2" cy="1004.2" r="5.3"/><circle cx="337.0" cy="1016.2" r="5.3"/><circle cx="346.7" cy="1015.2" r="5.3"/><circle cx="355.7" cy="1014.7" r="5.3"/><circle cx="384.2" cy="1012.2" r="5.3"/><circle cx="440.5" cy="1009.5" r="5.3"/><circle cx="450.2" cy="1013.2" r="5.3"/><circle cx="459.2" cy="1016.2" r="5.3"/><circle cx="365.5" cy="1020.7" r="5.3"/><circle cx="374.8" cy="1018.5" r="5.3"/><circle cx="384.2" cy="1023.0" r="5.3"/><circle cx="393.2" cy="1021.5" r="5.3"/><circle cx="403.0" cy="1020.7" r="5.3"/><circle cx="412.0" cy="1020.0" r="5.3"/><circle cx="421.7" cy="1017.7" r="5.3"/><circle cx="431.2" cy="1023.0" r="5.3"/><circle cx="440.5" cy="1022.2" r="5.3"/><circle cx="355.7" cy="1026.0" r="5.3"/><circle cx="365.5" cy="1030.5" r="5.3"/><circle cx="393.2" cy="1030.5" r="5.3"/><circle cx="421.7" cy="1027.5" r="5.3"/><circle cx="374.8" cy="1037.7" r="5.3"/><circle cx="384.2" cy="1040.2" r="5.3"/><circle cx="393.2" cy="1041.7" r="5.3"/><circle cx="403.0" cy="1035.0" r="5.3"/><circle cx="412.0" cy="1039.5" r="5.3"/><circle cx="421.7" cy="1038.3" r="5.3"/><circle cx="431.2" cy="1034.7" r="5.3"/><circle cx="449.8" cy="1046.2" r="5.3"/><circle cx="412.0" cy="1051.5" r="5.3"/><circle cx="384.2" cy="1054.8" r="5.3"/><circle cx="431.2" cy="1054.5" r="5.3"/><circle cx="327.7" cy="1059.0" r="5.3"/><circle cx="337.0" cy="1061.2" r="5.3"/><circle cx="346.7" cy="1064.7" r="5.3"/><circle cx="355.7" cy="1059.7" r="5.3"/><circle cx="365.5" cy="1056.0" r="5.3"/><circle cx="374.8" cy="1058.2" r="5.3"/><circle cx="403.0" cy="1057.5" r="5.3"/><circle cx="450.2" cy="1059.7" r="5.3"/><circle cx="355.7" cy="1068.7" r="5.3"/><circle cx="365.5" cy="1066.5" r="5.3"/><circle cx="374.8" cy="1069.5" r="5.3"/><circle cx="384.2" cy="1065.7" r="5.3"/><circle cx="393.2" cy="1062.7" r="5.3"/><circle cx="403.0" cy="1068.0" r="5.3"/><circle cx="412.0" cy="1062.7" r="5.3"/><circle cx="421.7" cy="1065.0" r="5.3"/><circle cx="431.2" cy="1065.0" r="5.3"/><circle cx="440.5" cy="1062.0" r="5.3"/><circle cx="459.2" cy="1066.8" r="5.3"/><circle cx="469.0" cy="1062.7" r="5.3"/><circle cx="337.0" cy="1071.7" r="5.3"/><circle cx="393.2" cy="1072.5" r="5.3"/><circle cx="412.0" cy="1073.2" r="5.3"/><circle cx="449.8" cy="1070.2" r="5.3"/><circle cx="384.2" cy="1081.5" r="5.3"/><circle cx="403.0" cy="1079.7" r="5.3"/></g>
<line x1="702.00" y1="643.95" x2="702.00" y2="1109.15" stroke="#111" stroke-width="1.6" />
<line x1="692.80" y1="1108.40" x2="702.00" y2="1108.40" stroke="#111" stroke-width="1.6" />
<text transform="translate(685.50,1114.80) scale(1,1.04)" font-size="23.2" text-anchor="end" >0</text>
<line x1="692.80" y1="1015.66" x2="702.00" y2="1015.66" stroke="#111" stroke-width="1.6" />
<text transform="translate(685.50,1022.06) scale(1,1.04)" font-size="23.2" text-anchor="end" >200</text>
<line x1="692.80" y1="922.92" x2="702.00" y2="922.92" stroke="#111" stroke-width="1.6" />
<text transform="translate(685.50,929.32) scale(1,1.04)" font-size="23.2" text-anchor="end" >400</text>
<line x1="692.80" y1="830.18" x2="702.00" y2="830.18" stroke="#111" stroke-width="1.6" />
<text transform="translate(685.50,836.58) scale(1,1.04)" font-size="23.2" text-anchor="end" >600</text>
<line x1="692.80" y1="737.44" x2="702.00" y2="737.44" stroke="#111" stroke-width="1.6" />
<text transform="translate(685.50,743.84) scale(1,1.04)" font-size="23.2" text-anchor="end" >800</text>
<line x1="692.80" y1="644.70" x2="702.00" y2="644.70" stroke="#111" stroke-width="1.6" />
<text transform="translate(685.50,651.10) scale(1,1.04)" font-size="23.2" text-anchor="end" >1000</text>
<line x1="702.00" y1="1108.40" x2="1155.70" y2="1108.40" stroke="#111" stroke-width="1.6" />
<line x1="852.40" y1="1108.40" x2="852.40" y2="1117.40" stroke="#111" stroke-width="1.6" />
<line x1="1002.90" y1="1108.40" x2="1002.90" y2="1117.40" stroke="#111" stroke-width="1.6" />
<text transform="translate(807.50,1146.80) scale(1,1.04)" font-size="23.4" text-anchor="start" >Control</text>
<text transform="translate(955.40,1146.80) scale(1,1.04)" font-size="23.4" text-anchor="start" >AECOPD</text>
<text transform="translate(622.60,872.30) rotate(-90) scale(1,1.04)" font-size="23.5" text-anchor="middle">Serum CK-18M30 (pg/mL)</text>
<line x1="852.00" y1="687.00" x2="1003.50" y2="687.00" stroke="#1a1a1a" stroke-width="1.8" />
<g stroke="#231815" stroke-width="1.55" stroke-linecap="butt"><line x1="924.55" y1="674.00" x2="924.55" y2="670.30"/><line x1="924.55" y1="674.00" x2="928.07" y2="672.86"/><line x1="924.55" y1="674.00" x2="926.72" y2="676.99"/><line x1="924.55" y1="674.00" x2="922.38" y2="676.99"/><line x1="924.55" y1="674.00" x2="921.03" y2="672.86"/></g>
<g stroke="#231815" stroke-width="1.55" stroke-linecap="butt"><line x1="933.95" y1="674.00" x2="933.95" y2="670.30"/><line x1="933.95" y1="674.00" x2="937.47" y2="672.86"/><line x1="933.95" y1="674.00" x2="936.12" y2="676.99"/><line x1="933.95" y1="674.00" x2="931.78" y2="676.99"/><line x1="933.95" y1="674.00" x2="930.43" y2="672.86"/></g>
<g stroke="#b2dccb" stroke-width="1.7" fill="none"><line x1="852.3" y1="959.1" x2="852.3" y2="1081.6"/><line x1="852.3" y1="1095.0" x2="852.3" y2="1101.2"/><line x1="814.8" y1="959.1" x2="889.8" y2="959.1"/><line x1="814.8" y1="1101.2" x2="889.8" y2="1101.2"/><rect x="778.8" y="1081.6" width="146.30000000000007" height="13.400000000000091" fill="none"/><line x1="776.5999999999999" y1="1087.5" x2="927.3000000000001" y2="1087.5" stroke-width="2.2"/></g>
<g stroke="#b2dccb" stroke-width="1.7" fill="none"><line x1="1002.9" y1="739.0" x2="1002.9" y2="975.0"/><line x1="1002.9" y1="1052.0" x2="1002.9" y2="1078.3"/><line x1="965.4" y1="739.0" x2="1040.4" y2="739.0"/><line x1="965.4" y1="1078.3" x2="1040.4" y2="1078.3"/><rect x="929.8" y="975.0" width="146.20000000000005" height="77.0" fill="none"/><line x1="927.5999999999999" y1="1008.7" x2="1078.2" y2="1008.7" stroke-width="2.3"/></g>
<g fill="#ee7d1e"><circle cx="849.3" cy="958.4" r="5.3"/><circle cx="855.0" cy="962.7" r="5.3"/><circle cx="849.3" cy="1031.4" r="5.3"/><circle cx="855.7" cy="1032.0" r="5.3"/><circle cx="855.0" cy="1042.7" r="5.3"/><circle cx="849.3" cy="1045.5" r="5.3"/><circle cx="860.7" cy="1053.3" r="5.3"/><circle cx="843.7" cy="1056.1" r="5.3"/><circle cx="855.0" cy="1061.5" r="5.3"/><circle cx="860.7" cy="1065.4" r="5.3"/><circle cx="843.7" cy="1069.2" r="5.3"/><circle cx="826.7" cy="1079.5" r="5.3"/><circle cx="911.6" cy="1074.3" r="5.3"/><circle cx="894.6" cy="1078.1" r="5.3"/><circle cx="901.0" cy="1081.0" r="5.3"/><circle cx="781.3" cy="1091.6" r="5.3"/><circle cx="787.0" cy="1090.8" r="5.3"/><circle cx="792.7" cy="1085.2" r="5.3"/><circle cx="798.3" cy="1091.6" r="5.3"/><circle cx="804.0" cy="1085.9" r="5.3"/><circle cx="809.7" cy="1085.9" r="5.3"/><circle cx="809.7" cy="1095.8" r="5.3"/><circle cx="815.3" cy="1090.1" r="5.3"/><circle cx="821.0" cy="1093.0" r="5.3"/><circle cx="832.3" cy="1087.3" r="5.3"/><circle cx="832.3" cy="1101.5" r="5.3"/><circle cx="843.7" cy="1085.9" r="5.3"/><circle cx="843.7" cy="1095.8" r="5.3"/><circle cx="849.3" cy="1085.9" r="5.3"/><circle cx="855.0" cy="1090.1" r="5.3"/><circle cx="855.0" cy="1100.1" r="5.3"/><circle cx="860.7" cy="1085.9" r="5.3"/><circle cx="866.3" cy="1084.5" r="5.3"/><circle cx="866.3" cy="1095.8" r="5.3"/><circle cx="872.0" cy="1090.1" r="5.3"/><circle cx="877.6" cy="1085.9" r="5.3"/><circle cx="877.6" cy="1095.8" r="5.3"/><circle cx="883.3" cy="1084.5" r="5.3"/><circle cx="889.0" cy="1093.0" r="5.3"/><circle cx="894.6" cy="1090.1" r="5.3"/><circle cx="900.3" cy="1090.1" r="5.3"/><circle cx="906.0" cy="1090.1" r="5.3"/><circle cx="911.6" cy="1090.1" r="5.3"/><circle cx="917.3" cy="1090.1" r="5.3"/><circle cx="923.0" cy="1092.3" r="5.3"/><circle cx="785.0" cy="1088.5" r="5.3"/><circle cx="792.9" cy="1091.5" r="5.3"/><circle cx="800.9" cy="1088.5" r="5.3"/><circle cx="808.8" cy="1091.5" r="5.3"/><circle cx="816.8" cy="1088.5" r="5.3"/><circle cx="824.7" cy="1091.5" r="5.3"/><circle cx="832.6" cy="1088.5" r="5.3"/><circle cx="840.6" cy="1091.5" r="5.3"/><circle cx="848.5" cy="1088.5" r="5.3"/><circle cx="856.5" cy="1091.5" r="5.3"/><circle cx="864.4" cy="1088.5" r="5.3"/><circle cx="872.4" cy="1091.5" r="5.3"/><circle cx="880.3" cy="1088.5" r="5.3"/><circle cx="888.2" cy="1091.5" r="5.3"/><circle cx="896.2" cy="1088.5" r="5.3"/><circle cx="904.1" cy="1091.5" r="5.3"/><circle cx="912.1" cy="1088.5" r="5.3"/><circle cx="920.0" cy="1091.5" r="5.3"/></g>
<g fill="#1f4aa0"><circle cx="998.0" cy="739.0" r="5.3"/><circle cx="998.0" cy="761.0" r="5.3"/><circle cx="1007.4" cy="769.0" r="5.3"/><circle cx="1007.4" cy="795.6" r="5.3"/><circle cx="998.0" cy="876.9" r="5.3"/><circle cx="1007.4" cy="879.0" r="5.3"/><circle cx="998.0" cy="888.0" r="5.3"/><circle cx="1007.4" cy="897.1" r="5.3"/><circle cx="997.7" cy="913.2" r="5.3"/><circle cx="1007.5" cy="920.7" r="5.3"/><circle cx="997.7" cy="923.7" r="5.3"/><circle cx="1007.5" cy="931.7" r="5.3"/><circle cx="988.7" cy="948.5" r="5.3"/><circle cx="998.2" cy="949.7" r="5.3"/><circle cx="1007.5" cy="951.8" r="5.3"/><circle cx="1017.2" cy="946.7" r="5.3"/><circle cx="1026.2" cy="949.5" r="5.3"/><circle cx="979.3" cy="958.2" r="5.3"/><circle cx="1017.2" cy="957.2" r="5.3"/><circle cx="1026.2" cy="960.5" r="5.3"/><circle cx="1007.5" cy="962.7" r="5.3"/><circle cx="988.7" cy="966.8" r="5.3"/><circle cx="998.2" cy="968.0" r="5.3"/><circle cx="979.3" cy="971.7" r="5.3"/><circle cx="1007.5" cy="972.2" r="5.3"/><circle cx="1017.2" cy="973.0" r="5.3"/><circle cx="1026.2" cy="971.0" r="5.3"/><circle cx="970.0" cy="981.8" r="5.3"/><circle cx="979.3" cy="985.5" r="5.3"/><circle cx="988.7" cy="987.5" r="5.3"/><circle cx="998.2" cy="985.2" r="5.3"/><circle cx="1017.2" cy="983.7" r="5.3"/><circle cx="1026.2" cy="987.5" r="5.3"/><circle cx="960.7" cy="994.2" r="5.3"/><circle cx="970.0" cy="992.7" r="5.3"/><circle cx="979.3" cy="996.5" r="5.3"/><circle cx="988.7" cy="995.0" r="5.3"/><circle cx="998.2" cy="997.2" r="5.3"/><circle cx="1007.5" cy="995.7" r="5.3"/><circle cx="1017.2" cy="993.5" r="5.3"/><circle cx="1026.2" cy="996.5" r="5.3"/><circle cx="1035.7" cy="992.0" r="5.3"/><circle cx="1045.0" cy="989.7" r="5.3"/><circle cx="960.7" cy="1004.0" r="5.3"/><circle cx="970.0" cy="1003.2" r="5.3"/><circle cx="1035.7" cy="1004.0" r="5.3"/><circle cx="1045.0" cy="1001.3" r="5.3"/><circle cx="979.3" cy="1009.7" r="5.3"/><circle cx="988.7" cy="1006.7" r="5.3"/><circle cx="998.2" cy="1009.7" r="5.3"/><circle cx="1007.5" cy="1006.7" r="5.3"/><circle cx="1017.2" cy="1005.2" r="5.3"/><circle cx="1026.2" cy="1009.7" r="5.3"/><circle cx="979.3" cy="1019.5" r="5.3"/><circle cx="988.7" cy="1018.7" r="5.3"/><circle cx="998.2" cy="1019.5" r="5.3"/><circle cx="1007.5" cy="1015.7" r="5.3"/><circle cx="1017.2" cy="1018.0" r="5.3"/><circle cx="1026.2" cy="1023.2" r="5.3"/><circle cx="979.3" cy="1030.0" r="5.3"/><circle cx="988.7" cy="1031.5" r="5.3"/><circle cx="998.2" cy="1033.0" r="5.3"/><circle cx="1007.5" cy="1036.7" r="5.3"/><circle cx="1017.2" cy="1036.7" r="5.3"/><circle cx="1026.2" cy="1037.5" r="5.3"/><circle cx="1035.7" cy="1041.2" r="5.3"/><circle cx="1045.0" cy="1042.7" r="5.3"/><circle cx="979.3" cy="1040.5" r="5.3"/><circle cx="960.7" cy="1045.0" r="5.3"/><circle cx="979.3" cy="1051.0" r="5.3"/><circle cx="988.7" cy="1050.2" r="5.3"/><circle cx="998.2" cy="1052.5" r="5.3"/><circle cx="1007.5" cy="1054.7" r="5.3"/><circle cx="1017.2" cy="1051.0" r="5.3"/><circle cx="1026.2" cy="1055.5" r="5.3"/><circle cx="1035.7" cy="1054.0" r="5.3"/><circle cx="1054.7" cy="1051.0" r="5.3"/><circle cx="960.7" cy="1056.2" r="5.3"/><circle cx="970.0" cy="1055.5" r="5.3"/><circle cx="1045.0" cy="1059.2" r="5.3"/><circle cx="979.3" cy="1060.7" r="5.3"/><circle cx="988.7" cy="1066.0" r="5.3"/><circle cx="1064.5" cy="1062.7" r="5.3"/><circle cx="932.5" cy="1075.7" r="5.3"/><circle cx="941.8" cy="1069.0" r="5.3"/><circle cx="951.2" cy="1071.2" r="5.3"/><circle cx="960.7" cy="1069.7" r="5.3"/><circle cx="970.0" cy="1068.2" r="5.3"/><circle cx="979.3" cy="1070.5" r="5.3"/><circle cx="970.0" cy="1078.7" r="5.3"/><circle cx="988.7" cy="1076.5" r="5.3"/><circle cx="998.2" cy="1074.2" r="5.3"/><circle cx="1007.5" cy="1076.5" r="5.3"/><circle cx="1017.2" cy="1073.5" r="5.3"/><circle cx="1026.2" cy="1072.0" r="5.3"/><circle cx="1035.7" cy="1075.7" r="5.3"/><circle cx="1045.0" cy="1075.7" r="5.3"/><circle cx="1054.7" cy="1073.5" r="5.3"/><circle cx="1064.5" cy="1073.5" r="5.3"/><circle cx="1073.5" cy="1069.7" r="5.3"/></g>
<line x1="92.40" y1="1281.20" x2="92.40" y2="1638.45" stroke="#3a3a3a" stroke-width="1.3" />
<line x1="91.75" y1="1637.80" x2="578.80" y2="1637.80" stroke="#3a3a3a" stroke-width="1.3" />
<line x1="87.20" y1="1623.40" x2="92.40" y2="1623.40" stroke="#3a3a3a" stroke-width="1.3" />
<text transform="translate(83.30,1630.10) scale(1,1.04)" font-size="23.2" text-anchor="end" >0</text>
<line x1="87.20" y1="1576.13" x2="92.40" y2="1576.13" stroke="#3a3a3a" stroke-width="1.3" />
<text transform="translate(83.30,1582.83) scale(1,1.04)" font-size="23.2" text-anchor="end" >5</text>
<line x1="87.20" y1="1528.86" x2="92.40" y2="1528.86" stroke="#3a3a3a" stroke-width="1.3" />
<text transform="translate(83.30,1535.56) scale(1,1.04)" font-size="23.2" text-anchor="end" >10</text>
<line x1="87.20" y1="1481.59" x2="92.40" y2="1481.59" stroke="#3a3a3a" stroke-width="1.3" />
<text transform="translate(83.30,1488.29) scale(1,1.04)" font-size="23.2" text-anchor="end" >15</text>
<line x1="87.20" y1="1434.32" x2="92.40" y2="1434.32" stroke="#3a3a3a" stroke-width="1.3" />
<text transform="translate(83.30,1441.02) scale(1,1.04)" font-size="23.2" text-anchor="end" >20</text>
<line x1="87.20" y1="1387.05" x2="92.40" y2="1387.05" stroke="#3a3a3a" stroke-width="1.3" />
<text transform="translate(83.30,1393.75) scale(1,1.04)" font-size="23.2" text-anchor="end" >25</text>
<line x1="87.20" y1="1339.78" x2="92.40" y2="1339.78" stroke="#3a3a3a" stroke-width="1.3" />
<text transform="translate(83.30,1346.48) scale(1,1.04)" font-size="23.2" text-anchor="end" >30</text>
<line x1="87.20" y1="1292.51" x2="92.40" y2="1292.51" stroke="#3a3a3a" stroke-width="1.3" />
<text transform="translate(83.30,1299.21) scale(1,1.04)" font-size="23.2" text-anchor="end" >35</text>
<line x1="112.00" y1="1637.80" x2="112.00" y2="1643.00" stroke="#3a3a3a" stroke-width="1.3" />
<text transform="translate(112.00,1665.90) scale(1,1.04)" font-size="23.2" text-anchor="middle" >0</text>
<line x1="190.85" y1="1637.80" x2="190.85" y2="1643.00" stroke="#3a3a3a" stroke-width="1.3" />
<text transform="translate(190.85,1665.90) scale(1,1.04)" font-size="23.2" text-anchor="middle" >5</text>
<line x1="269.70" y1="1637.80" x2="269.70" y2="1643.00" stroke="#3a3a3a" stroke-width="1.3" />
<text transform="translate(269.70,1665.90) scale(1,1.04)" font-size="23.2" text-anchor="middle" >10</text>
<line x1="348.55" y1="1637.80" x2="348.55" y2="1643.00" stroke="#3a3a3a" stroke-width="1.3" />
<text transform="translate(348.55,1665.90) scale(1,1.04)" font-size="23.2" text-anchor="middle" >15</text>
<line x1="427.40" y1="1637.80" x2="427.40" y2="1643.00" stroke="#3a3a3a" stroke-width="1.3" />
<text transform="translate(427.40,1665.90) scale(1,1.04)" font-size="23.2" text-anchor="middle" >20</text>
<line x1="506.25" y1="1637.80" x2="506.25" y2="1643.00" stroke="#3a3a3a" stroke-width="1.3" />
<text transform="translate(506.25,1665.90) scale(1,1.04)" font-size="23.2" text-anchor="middle" >25</text>
<text transform="translate(150.60,1690.60) scale(1,1.04)" font-size="23.5" text-anchor="start" >Serum CK-18-baseline (ng/mL)</text>
<text transform="translate(44.20,1455.70) rotate(-90) scale(1,1.04)" font-size="23.5" text-anchor="middle">Serum CK-18-follow-up (ng/mL)</text>
<text transform="translate(207.3,1303.3) scale(1,1.04)" font-size="22.2" xml:space="preserve">Adjusted <tspan font-style="italic">R</tspan><tspan font-size="15" dy="-9.8">2</tspan><tspan dy="9.8">=0.83,  </tspan><tspan font-style="italic">β</tspan>=0.95</text>
<text transform="translate(207.3,1331.6) scale(1,1.04)" font-size="22.2" xml:space="preserve"><tspan letter-spacing="0.45"><tspan font-style="italic">P</tspan>=4.11×10</tspan><tspan font-size="13.8" dx="0.6" dy="-8.9">-20</tspan><tspan dy="8.9">,  CCC=0.80</tspan></text>
<g fill="none" stroke="#2c4fa3" stroke-width="1.5"><circle cx="114.0" cy="1602.4" r="3.95"/><circle cx="124.7" cy="1557.0" r="3.95"/><circle cx="132.7" cy="1551.3" r="3.95"/><circle cx="138.7" cy="1548.0" r="3.95"/><circle cx="144.7" cy="1544.7" r="3.95"/><circle cx="179.7" cy="1523.3" r="3.95"/><circle cx="188.7" cy="1518.4" r="3.95"/><circle cx="193.3" cy="1515.3" r="3.95"/><circle cx="196.7" cy="1514.0" r="3.95"/><circle cx="200.0" cy="1512.7" r="3.95"/><circle cx="203.3" cy="1511.0" r="3.95"/><circle cx="206.7" cy="1508.7" r="3.95"/><circle cx="210.4" cy="1505.3" r="3.95"/><circle cx="163.3" cy="1569.6" r="3.95"/><circle cx="175.3" cy="1565.6" r="3.95"/><circle cx="182.7" cy="1568.7" r="3.95"/><circle cx="188.7" cy="1553.0" r="3.95"/><circle cx="189.3" cy="1555.3" r="3.95"/><circle cx="188.0" cy="1558.7" r="3.95"/><circle cx="187.3" cy="1561.3" r="3.95"/><circle cx="192.0" cy="1568.0" r="3.95"/><circle cx="193.3" cy="1570.7" r="3.95"/><circle cx="190.7" cy="1572.7" r="3.95"/><circle cx="157.3" cy="1590.7" r="3.95"/><circle cx="186.7" cy="1590.0" r="3.95"/><circle cx="212.7" cy="1575.3" r="3.95"/><circle cx="201.3" cy="1550.0" r="3.95"/><circle cx="206.7" cy="1543.7" r="3.95"/><circle cx="211.3" cy="1538.7" r="3.95"/><circle cx="216.0" cy="1537.3" r="3.95"/><circle cx="222.0" cy="1534.7" r="3.95"/><circle cx="226.0" cy="1534.7" r="3.95"/><circle cx="217.5" cy="1538.8" r="3.95"/><circle cx="203.3" cy="1556.0" r="3.95"/><circle cx="205.3" cy="1554.7" r="3.95"/><circle cx="209.3" cy="1552.7" r="3.95"/><circle cx="212.7" cy="1551.3" r="3.95"/><circle cx="216.0" cy="1550.0" r="3.95"/><circle cx="218.7" cy="1548.7" r="3.95"/><circle cx="226.0" cy="1549.0" r="3.95"/><circle cx="232.0" cy="1546.0" r="3.95"/><circle cx="227.3" cy="1566.0" r="3.95"/><circle cx="232.7" cy="1563.3" r="3.95"/><circle cx="237.3" cy="1560.7" r="3.95"/><circle cx="241.3" cy="1558.7" r="3.95"/><circle cx="245.3" cy="1556.0" r="3.95"/><circle cx="248.0" cy="1554.7" r="3.95"/><circle cx="240.0" cy="1526.7" r="3.95"/><circle cx="244.0" cy="1537.3" r="3.95"/><circle cx="248.0" cy="1536.0" r="3.95"/><circle cx="146.0" cy="1578.7" r="3.95"/><circle cx="147.3" cy="1581.3" r="3.95"/><circle cx="249.4" cy="1528.1" r="3.95"/><circle cx="253.8" cy="1526.3" r="3.95"/><circle cx="256.3" cy="1523.8" r="3.95"/><circle cx="260.0" cy="1528.1" r="3.95"/><circle cx="255.0" cy="1531.3" r="3.95"/><circle cx="261.9" cy="1545.6" r="3.95"/><circle cx="267.5" cy="1506.9" r="3.95"/><circle cx="272.5" cy="1504.4" r="3.95"/><circle cx="271.3" cy="1521.9" r="3.95"/><circle cx="277.5" cy="1512.5" r="3.95"/><circle cx="284.4" cy="1496.9" r="3.95"/><circle cx="286.9" cy="1495.0" r="3.95"/><circle cx="291.3" cy="1509.4" r="3.95"/><circle cx="288.8" cy="1529.4" r="3.95"/><circle cx="294.4" cy="1526.3" r="3.95"/><circle cx="306.9" cy="1493.8" r="3.95"/><circle cx="320.0" cy="1492.5" r="3.95"/><circle cx="326.9" cy="1483.1" r="3.95"/><circle cx="525.5" cy="1352.5" r="3.95"/><circle cx="494.2" cy="1371.2" r="3.95"/><circle cx="434.5" cy="1417.5" r="3.95"/><circle cx="423.0" cy="1424.5" r="3.95"/><circle cx="379.2" cy="1440.0" r="3.95"/><circle cx="388.8" cy="1451.8" r="3.95"/><circle cx="556.7" cy="1297.5" r="3.95"/><circle cx="130.0" cy="1591.0" r="3.95"/><circle cx="129.0" cy="1588.0" r="3.95"/><circle cx="132.2" cy="1590.0" r="3.95"/><circle cx="131.1" cy="1587.2" r="3.95"/><circle cx="134.5" cy="1589.0" r="3.95"/><circle cx="133.2" cy="1586.5" r="3.95"/><circle cx="136.8" cy="1588.0" r="3.95"/><circle cx="135.4" cy="1585.8" r="3.95"/><circle cx="139.0" cy="1587.0" r="3.95"/><circle cx="137.5" cy="1585.0" r="3.95"/><circle cx="141.2" cy="1586.0" r="3.95"/><circle cx="139.6" cy="1584.2" r="3.95"/><circle cx="143.5" cy="1585.0" r="3.95"/><circle cx="141.8" cy="1583.5" r="3.95"/><circle cx="145.8" cy="1584.0" r="3.95"/><circle cx="143.9" cy="1582.8" r="3.95"/><circle cx="148.0" cy="1583.0" r="3.95"/></g>
<g fill="none" stroke="#eda833" stroke-width="1.5"><circle cx="114.0" cy="1564.0" r="3.95"/><circle cx="130.0" cy="1551.3" r="3.95"/><circle cx="125.3" cy="1592.0" r="3.95"/><circle cx="144.0" cy="1586.7" r="3.95"/><circle cx="161.3" cy="1573.3" r="3.95"/><circle cx="163.3" cy="1583.0" r="3.95"/><circle cx="175.3" cy="1575.0" r="3.95"/><circle cx="188.0" cy="1567.3" r="3.95"/><circle cx="284.8" cy="1510.0" r="3.95"/><circle cx="341.8" cy="1474.5" r="3.95"/><circle cx="124.0" cy="1603.5" r="3.95"/><circle cx="124.0" cy="1601.5" r="3.95"/><circle cx="125.0" cy="1605.0" r="3.95"/><circle cx="126.0" cy="1602.5" r="3.95"/><circle cx="128.0" cy="1601.5" r="3.95"/><circle cx="127.0" cy="1600.0" r="3.95"/><circle cx="127.3" cy="1603.8" r="3.95"/><circle cx="130.0" cy="1600.5" r="3.95"/><circle cx="132.0" cy="1599.5" r="3.95"/><circle cx="130.0" cy="1598.5" r="3.95"/><circle cx="129.7" cy="1602.7" r="3.95"/><circle cx="134.0" cy="1598.5" r="3.95"/><circle cx="136.0" cy="1597.5" r="3.95"/><circle cx="133.0" cy="1597.0" r="3.95"/><circle cx="132.0" cy="1601.5" r="3.95"/><circle cx="138.0" cy="1596.5" r="3.95"/><circle cx="140.0" cy="1595.5" r="3.95"/><circle cx="136.0" cy="1595.5" r="3.95"/><circle cx="134.3" cy="1600.3" r="3.95"/><circle cx="142.0" cy="1594.5" r="3.95"/><circle cx="144.0" cy="1593.5" r="3.95"/><circle cx="139.0" cy="1594.0" r="3.95"/><circle cx="146.0" cy="1592.5" r="3.95"/><circle cx="137.8" cy="1598.6" r="3.95"/><circle cx="148.0" cy="1591.5" r="3.95"/><circle cx="142.0" cy="1592.5" r="3.95"/></g>
<line x1="112.00" y1="1605.00" x2="557.10" y2="1345.00" stroke="#808080" stroke-width="2.2" />
<line x1="114.60" y1="1621.50" x2="555.60" y2="1357.10" stroke="#000" stroke-width="2.3" stroke-dasharray="7 3.9"/>
<line x1="697.90" y1="1268.70" x2="697.90" y2="1639.60" stroke="#3a3a3a" stroke-width="1.3" />
<line x1="697.25" y1="1638.95" x2="1198.90" y2="1638.95" stroke="#3a3a3a" stroke-width="1.3" />
<line x1="692.60" y1="1627.90" x2="697.90" y2="1627.90" stroke="#3a3a3a" stroke-width="1.3" />
<text transform="translate(689.00,1634.40) scale(1,1.04)" font-size="23.2" text-anchor="end" >0</text>
<line x1="692.60" y1="1586.44" x2="697.90" y2="1586.44" stroke="#3a3a3a" stroke-width="1.3" />
<text transform="translate(689.00,1592.94) scale(1,1.04)" font-size="23.2" text-anchor="end" >100</text>
<line x1="692.60" y1="1544.98" x2="697.90" y2="1544.98" stroke="#3a3a3a" stroke-width="1.3" />
<text transform="translate(689.00,1551.48) scale(1,1.04)" font-size="23.2" text-anchor="end" >200</text>
<line x1="692.60" y1="1503.52" x2="697.90" y2="1503.52" stroke="#3a3a3a" stroke-width="1.3" />
<text transform="translate(689.00,1510.02) scale(1,1.04)" font-size="23.2" text-anchor="end" >300</text>
<line x1="692.60" y1="1462.06" x2="697.90" y2="1462.06" stroke="#3a3a3a" stroke-width="1.3" />
<text transform="translate(689.00,1468.56) scale(1,1.04)" font-size="23.2" text-anchor="end" >400</text>
<line x1="692.60" y1="1420.60" x2="697.90" y2="1420.60" stroke="#3a3a3a" stroke-width="1.3" />
<text transform="translate(689.00,1427.10) scale(1,1.04)" font-size="23.2" text-anchor="end" >500</text>
<line x1="692.60" y1="1379.14" x2="697.90" y2="1379.14" stroke="#3a3a3a" stroke-width="1.3" />
<text transform="translate(689.00,1385.64) scale(1,1.04)" font-size="23.2" text-anchor="end" >600</text>
<line x1="692.60" y1="1337.68" x2="697.90" y2="1337.68" stroke="#3a3a3a" stroke-width="1.3" />
<text transform="translate(689.00,1344.18) scale(1,1.04)" font-size="23.2" text-anchor="end" >700</text>
<line x1="692.60" y1="1296.22" x2="697.90" y2="1296.22" stroke="#3a3a3a" stroke-width="1.3" />
<text transform="translate(689.00,1302.72) scale(1,1.04)" font-size="23.2" text-anchor="end" >800</text>
<line x1="712.00" y1="1638.95" x2="712.00" y2="1643.90" stroke="#3a3a3a" stroke-width="1.3" />
<text transform="translate(712.00,1665.90) scale(1,1.04)" font-size="23.2" text-anchor="middle" >0</text>
<line x1="772.87" y1="1638.95" x2="772.87" y2="1643.90" stroke="#3a3a3a" stroke-width="1.3" />
<text transform="translate(772.87,1665.90) scale(1,1.04)" font-size="23.2" text-anchor="middle" >100</text>
<line x1="833.74" y1="1638.95" x2="833.74" y2="1643.90" stroke="#3a3a3a" stroke-width="1.3" />
<text transform="translate(833.74,1665.90) scale(1,1.04)" font-size="23.2" text-anchor="middle" >200</text>
<line x1="894.61" y1="1638.95" x2="894.61" y2="1643.90" stroke="#3a3a3a" stroke-width="1.3" />
<text transform="translate(894.61,1665.90) scale(1,1.04)" font-size="23.2" text-anchor="middle" >300</text>
<line x1="955.48" y1="1638.95" x2="955.48" y2="1643.90" stroke="#3a3a3a" stroke-width="1.3" />
<text transform="translate(955.48,1665.90) scale(1,1.04)" font-size="23.2" text-anchor="middle" >400</text>
<line x1="1016.35" y1="1638.95" x2="1016.35" y2="1643.90" stroke="#3a3a3a" stroke-width="1.3" />
<text transform="translate(1016.35,1665.90) scale(1,1.04)" font-size="23.2" text-anchor="middle" >500</text>
<line x1="1077.22" y1="1638.95" x2="1077.22" y2="1643.90" stroke="#3a3a3a" stroke-width="1.3" />
<text transform="translate(1077.22,1665.90) scale(1,1.04)" font-size="23.2" text-anchor="middle" >600</text>
<line x1="1138.09" y1="1638.95" x2="1138.09" y2="1643.90" stroke="#3a3a3a" stroke-width="1.3" />
<text transform="translate(1138.09,1665.90) scale(1,1.04)" font-size="23.2" text-anchor="middle" >700</text>
<text transform="translate(743.60,1695.60) scale(1,1.04)" font-size="23.5" text-anchor="start" >Serum CK-18M30-baseline (pg/mL)</text>
<text transform="translate(633.60,1452.20) rotate(-90) scale(1,1.04)" font-size="23.5" text-anchor="middle">Serum CK-18M30-follow-up (pg/mL)</text>
<text transform="translate(813.6,1290.0) scale(1,1.04)" font-size="20.4" xml:space="preserve">Adjusted <tspan font-style="italic">R</tspan><tspan font-size="14" dy="-9.0">2</tspan><tspan dy="9.0">=0.97,  </tspan><tspan font-style="italic">β</tspan>=0.99</text>
<text transform="translate(813.6,1316.7) scale(1,1.04)" font-size="20.4" xml:space="preserve"><tspan letter-spacing="0.15"><tspan font-style="italic">P</tspan>=5.92×10</tspan><tspan font-size="14" dx="0.2" dy="-8.6">-39</tspan><tspan dy="8.6">,  CCC=0.97</tspan></text>
<g fill="none" stroke="#2c4fa3" stroke-width="1.5"><circle cx="727.0" cy="1439.2" r="3.95"/><circle cx="744.2" cy="1561.7" r="3.95"/><circle cx="742.9" cy="1567.5" r="3.95"/><circle cx="721.3" cy="1579.2" r="3.95"/><circle cx="727.5" cy="1575.0" r="3.95"/><circle cx="733.3" cy="1575.8" r="3.95"/><circle cx="724.2" cy="1581.7" r="3.95"/><circle cx="722.5" cy="1585.0" r="3.95"/><circle cx="744.2" cy="1586.7" r="3.95"/><circle cx="751.3" cy="1580.8" r="3.95"/><circle cx="760.0" cy="1575.8" r="3.95"/><circle cx="761.7" cy="1578.3" r="3.95"/><circle cx="783.3" cy="1557.5" r="3.95"/><circle cx="782.5" cy="1564.2" r="3.95"/><circle cx="790.8" cy="1560.0" r="3.95"/><circle cx="796.7" cy="1551.7" r="3.95"/><circle cx="800.8" cy="1546.7" r="3.95"/><circle cx="802.9" cy="1545.0" r="3.95"/><circle cx="788.3" cy="1581.7" r="3.95"/><circle cx="793.3" cy="1578.3" r="3.95"/><circle cx="796.7" cy="1575.0" r="3.95"/><circle cx="800.8" cy="1571.7" r="3.95"/><circle cx="799.8" cy="1492.8" r="3.95"/><circle cx="855.6" cy="1487.7" r="3.95"/><circle cx="858.8" cy="1486.1" r="3.95"/><circle cx="866.4" cy="1486.1" r="3.95"/><circle cx="868.6" cy="1484.5" r="3.95"/><circle cx="828.0" cy="1506.7" r="3.95"/><circle cx="835.5" cy="1501.3" r="3.95"/><circle cx="841.0" cy="1498.5" r="3.95"/><circle cx="843.7" cy="1495.8" r="3.95"/><circle cx="842.6" cy="1502.3" r="3.95"/><circle cx="784.1" cy="1535.9" r="3.95"/><circle cx="787.3" cy="1533.8" r="3.95"/><circle cx="793.8" cy="1534.8" r="3.95"/><circle cx="796.0" cy="1528.3" r="3.95"/><circle cx="799.3" cy="1531.6" r="3.95"/><circle cx="802.5" cy="1524.0" r="3.95"/><circle cx="804.7" cy="1527.3" r="3.95"/><circle cx="807.9" cy="1524.0" r="3.95"/><circle cx="812.3" cy="1517.5" r="3.95"/><circle cx="814.4" cy="1521.8" r="3.95"/><circle cx="818.8" cy="1518.6" r="3.95"/><circle cx="790.0" cy="1530.0" r="3.95"/><circle cx="808.0" cy="1530.0" r="3.95"/><circle cx="832.3" cy="1525.6" r="3.95"/><circle cx="869.1" cy="1505.6" r="3.95"/><circle cx="876.2" cy="1520.8" r="3.95"/><circle cx="884.8" cy="1515.3" r="3.95"/><circle cx="898.9" cy="1505.6" r="3.95"/><circle cx="806.8" cy="1547.9" r="3.95"/><circle cx="812.3" cy="1544.6" r="3.95"/><circle cx="811.2" cy="1538.1" r="3.95"/><circle cx="814.4" cy="1535.9" r="3.95"/><circle cx="819.8" cy="1539.2" r="3.95"/><circle cx="848.5" cy="1539.2" r="3.95"/><circle cx="834.5" cy="1548.9" r="3.95"/><circle cx="818.8" cy="1559.8" r="3.95"/><circle cx="813.3" cy="1564.1" r="3.95"/><circle cx="962.5" cy="1420.6" r="3.95"/><circle cx="980.0" cy="1430.4" r="3.95"/><circle cx="988.8" cy="1422.5" r="3.95"/><circle cx="896.3" cy="1460.0" r="3.95"/><circle cx="900.6" cy="1462.8" r="3.95"/><circle cx="913.8" cy="1453.5" r="3.95"/><circle cx="951.3" cy="1469.6" r="3.95"/><circle cx="902.3" cy="1483.1" r="3.95"/><circle cx="916.3" cy="1493.4" r="3.95"/><circle cx="876.3" cy="1518.8" r="3.95"/><circle cx="1175.2" cy="1297.3" r="3.95"/><circle cx="1114.4" cy="1316.8" r="3.95"/><circle cx="1128.0" cy="1324.3" r="3.95"/><circle cx="1100.8" cy="1348.0" r="3.95"/><circle cx="722.0" cy="1598.0" r="3.95"/><circle cx="724.0" cy="1594.0" r="3.95"/><circle cx="724.0" cy="1596.9" r="3.95"/><circle cx="726.0" cy="1595.7" r="3.95"/><circle cx="727.1" cy="1592.6" r="3.95"/><circle cx="728.0" cy="1594.6" r="3.95"/><circle cx="730.0" cy="1593.4" r="3.95"/><circle cx="730.3" cy="1591.1" r="3.95"/><circle cx="732.0" cy="1592.3" r="3.95"/><circle cx="734.0" cy="1591.1" r="3.95"/><circle cx="736.0" cy="1590.0" r="3.95"/></g>
<g fill="none" stroke="#eda833" stroke-width="1.5"><circle cx="728.8" cy="1585.8" r="3.95"/><circle cx="778.3" cy="1578.3" r="3.95"/><circle cx="782.5" cy="1581.7" r="3.95"/><circle cx="787.5" cy="1571.7" r="3.95"/><circle cx="800.0" cy="1569.2" r="3.95"/><circle cx="804.2" cy="1559.2" r="3.95"/><circle cx="748.3" cy="1596.7" r="3.95"/><circle cx="756.7" cy="1592.5" r="3.95"/><circle cx="760.0" cy="1590.0" r="3.95"/><circle cx="743.3" cy="1601.7" r="3.95"/><circle cx="744.2" cy="1614.2" r="3.95"/><circle cx="741.7" cy="1610.8" r="3.95"/><circle cx="723.3" cy="1621.7" r="3.95"/><circle cx="729.2" cy="1620.0" r="3.95"/><circle cx="732.5" cy="1617.5" r="3.95"/><circle cx="896.3" cy="1496.9" r="3.95"/><circle cx="901.9" cy="1494.4" r="3.95"/><circle cx="720.0" cy="1618.0" r="3.95"/><circle cx="720.0" cy="1614.0" r="3.95"/><circle cx="721.9" cy="1616.7" r="3.95"/><circle cx="721.6" cy="1612.9" r="3.95"/><circle cx="723.8" cy="1615.5" r="3.95"/><circle cx="723.3" cy="1611.8" r="3.95"/><circle cx="724.9" cy="1619.0" r="3.95"/><circle cx="725.7" cy="1614.2" r="3.95"/><circle cx="724.9" cy="1610.7" r="3.95"/><circle cx="727.6" cy="1612.9" r="3.95"/><circle cx="726.5" cy="1609.6" r="3.95"/><circle cx="727.8" cy="1617.0" r="3.95"/><circle cx="729.5" cy="1611.6" r="3.95"/><circle cx="728.2" cy="1608.5" r="3.95"/><circle cx="731.5" cy="1610.4" r="3.95"/><circle cx="729.8" cy="1607.5" r="3.95"/><circle cx="730.7" cy="1615.0" r="3.95"/><circle cx="733.4" cy="1609.1" r="3.95"/><circle cx="731.5" cy="1606.4" r="3.95"/><circle cx="735.3" cy="1607.8" r="3.95"/><circle cx="733.1" cy="1605.3" r="3.95"/><circle cx="733.6" cy="1613.0" r="3.95"/><circle cx="737.2" cy="1606.5" r="3.95"/><circle cx="734.7" cy="1604.2" r="3.95"/><circle cx="739.1" cy="1605.3" r="3.95"/><circle cx="736.4" cy="1603.1" r="3.95"/><circle cx="736.5" cy="1611.0" r="3.95"/><circle cx="741.0" cy="1604.0" r="3.95"/><circle cx="738.0" cy="1602.0" r="3.95"/></g>
<line x1="720.40" y1="1605.40" x2="1175.50" y2="1285.30" stroke="#808080" stroke-width="2.2" />
<line x1="720.40" y1="1621.30" x2="1175.50" y2="1312.00" stroke="#000" stroke-width="2.3" stroke-dasharray="7 3.9"/>
</svg></body></html>
